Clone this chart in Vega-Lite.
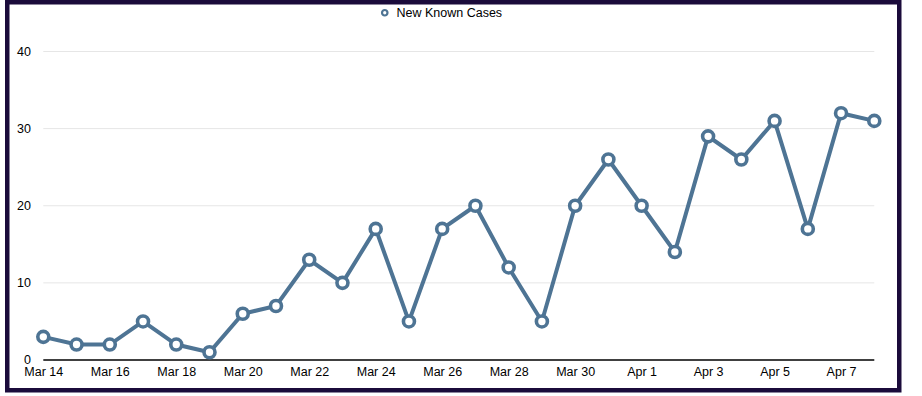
{
  "$schema": "https://vega.github.io/schema/vega-lite/v6.json",
  "width": 892,
  "height": 388,
  "autosize": {"type": "none"},
  "padding": {"left": 7.25, "top": 2.2, "right": 22.75, "bottom": 5.8},
  "background": "white",
  "config": {
    "view": {"stroke": "#1b0b3b", "strokeWidth": 4.5, "fill": "white"},
    "font": "Liberation Sans",
    "axis": {"labelFont": "Liberation Sans", "labelFontSize": 12.5, "labelColor": "#000000", "domain": false, "ticks": false, "tickSize": 0, "grid": false, "title": null}
  },
  "data": {
    "values": [
      {"date": "2020-03-14", "cases": 3},
      {"date": "2020-03-15", "cases": 2},
      {"date": "2020-03-16", "cases": 2},
      {"date": "2020-03-17", "cases": 5},
      {"date": "2020-03-18", "cases": 2},
      {"date": "2020-03-19", "cases": 1},
      {"date": "2020-03-20", "cases": 6},
      {"date": "2020-03-21", "cases": 7},
      {"date": "2020-03-22", "cases": 13},
      {"date": "2020-03-23", "cases": 10},
      {"date": "2020-03-24", "cases": 17},
      {"date": "2020-03-25", "cases": 5},
      {"date": "2020-03-26", "cases": 17},
      {"date": "2020-03-27", "cases": 20},
      {"date": "2020-03-28", "cases": 12},
      {"date": "2020-03-29", "cases": 5},
      {"date": "2020-03-30", "cases": 20},
      {"date": "2020-03-31", "cases": 26},
      {"date": "2020-04-01", "cases": 20},
      {"date": "2020-04-02", "cases": 14},
      {"date": "2020-04-03", "cases": 29},
      {"date": "2020-04-04", "cases": 26},
      {"date": "2020-04-05", "cases": 31},
      {"date": "2020-04-06", "cases": 17},
      {"date": "2020-04-07", "cases": 32},
      {"date": "2020-04-08", "cases": 31}
    ]
  },
  "layer": [
    {
      "data": {"values": [{}]},
      "mark": {"type": "rule", "color": "#e6e6e6", "strokeWidth": 1},
      "encoding": {
        "x": {"datum": {"year": 2020, "month": 3, "date": 14, "utc": true}, "type": "temporal"},
        "x2": {"datum": {"year": 2020, "month": 4, "date": 8, "utc": true}},
        "y": {"datum": 10, "type": "quantitative"}
      }
    },
    {
      "data": {"values": [{}]},
      "mark": {"type": "rule", "color": "#e6e6e6", "strokeWidth": 1},
      "encoding": {
        "x": {"datum": {"year": 2020, "month": 3, "date": 14, "utc": true}, "type": "temporal"},
        "x2": {"datum": {"year": 2020, "month": 4, "date": 8, "utc": true}},
        "y": {"datum": 20, "type": "quantitative"}
      }
    },
    {
      "data": {"values": [{}]},
      "mark": {"type": "rule", "color": "#e6e6e6", "strokeWidth": 1},
      "encoding": {
        "x": {"datum": {"year": 2020, "month": 3, "date": 14, "utc": true}, "type": "temporal"},
        "x2": {"datum": {"year": 2020, "month": 4, "date": 8, "utc": true}},
        "y": {"datum": 30, "type": "quantitative"}
      }
    },
    {
      "data": {"values": [{}]},
      "mark": {"type": "rule", "color": "#e6e6e6", "strokeWidth": 1},
      "encoding": {
        "x": {"datum": {"year": 2020, "month": 3, "date": 14, "utc": true}, "type": "temporal"},
        "x2": {"datum": {"year": 2020, "month": 4, "date": 8, "utc": true}},
        "y": {"datum": 40, "type": "quantitative"}
      }
    },
    {
      "data": {"values": [{}]},
      "mark": {"type": "rule", "color": "#000000", "strokeWidth": 1.5},
      "encoding": {
        "x": {"datum": {"year": 2020, "month": 3, "date": 14, "utc": true}, "type": "temporal"},
        "x2": {"datum": {"year": 2020, "month": 4, "date": 8, "utc": true}},
        "y": {"datum": 0, "type": "quantitative"}
      }
    },
    {
      "mark": {
        "type": "line",
        "strokeWidth": 4,
        "point": {"filled": false, "fill": "white", "size": 121, "strokeWidth": 3.6}
      },
      "encoding": {
        "x": {
          "field": "date",
          "type": "temporal",
          "scale": {
            "type": "utc",
            "domain": [
              {"year": 2020, "month": 3, "date": 12, "hours": 21, "minutes": 58, "utc": true},
              {"year": 2020, "month": 4, "date": 8, "hours": 18, "minutes": 1, "utc": true}
            ]
          },
          "axis": {
            "values": [
              {"year": 2020, "month": 3, "date": 14, "utc": true},
              {"year": 2020, "month": 3, "date": 16, "utc": true},
              {"year": 2020, "month": 3, "date": 18, "utc": true},
              {"year": 2020, "month": 3, "date": 20, "utc": true},
              {"year": 2020, "month": 3, "date": 22, "utc": true},
              {"year": 2020, "month": 3, "date": 24, "utc": true},
              {"year": 2020, "month": 3, "date": 26, "utc": true},
              {"year": 2020, "month": 3, "date": 28, "utc": true},
              {"year": 2020, "month": 3, "date": 30, "utc": true},
              {"year": 2020, "month": 4, "date": 1, "utc": true},
              {"year": 2020, "month": 4, "date": 3, "utc": true},
              {"year": 2020, "month": 4, "date": 5, "utc": true},
              {"year": 2020, "month": 4, "date": 7, "utc": true}
            ],
            "format": "%b %-d",
            "offset": -30.2,
            "labelPadding": 5,
            "labelFlush": false,
            "labelOverlap": false,
            "title": null
          }
        },
        "y": {
          "field": "cases",
          "type": "quantitative",
          "scale": {"domain": [-3.916, 46.392], "nice": false, "zero": false},
          "axis": {
            "values": [0, 10, 20, 30, 40],
            "offset": -23.25,
            "labelPadding": 0,
            "labelOverlap": false,
            "labelFlush": false,
            "title": null
          }
        },
        "color": {
          "datum": "New Known Cases",
          "scale": {"range": ["#4e7494"]},
          "legend": {
            "orient": "none",
            "legendX": 371.25,
            "legendY": 4.3,
            "title": null,
            "padding": 0,
            "symbolType": "circle",
            "symbolSize": 30,
            "symbolStrokeWidth": 2.2,
            "symbolFillColor": "white",
            "labelFont": "Liberation Sans",
            "labelFontSize": 12.5,
            "labelColor": "#000000",
            "labelOffset": 5.5
          }
        }
      }
    }
  ]
}
